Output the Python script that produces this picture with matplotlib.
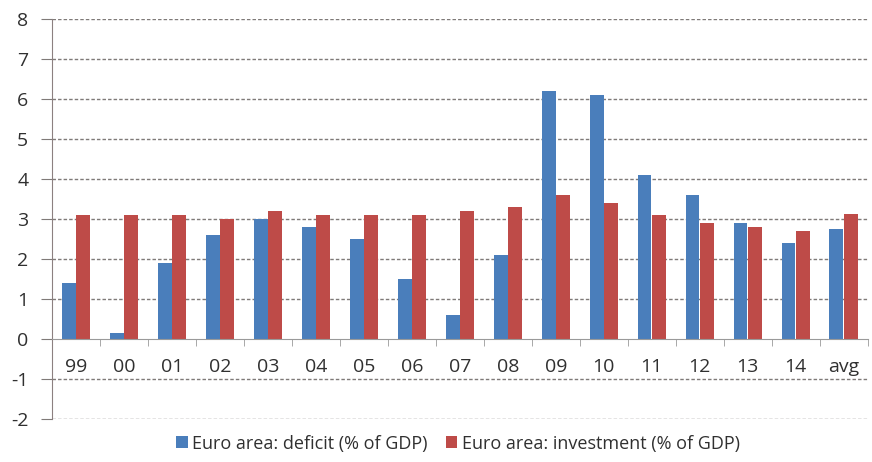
import matplotlib.pyplot as plt
import numpy as np

plt.rcParams['font.family'] = ['Open Sans', 'DejaVu Sans']
plt.rcParams['axes.unicode_minus'] = False

years = ['99', '00', '01', '02', '03', '04', '05', '06', '07', '08',
         '09', '10', '11', '12', '13', '14', 'avg']
deficit = [1.4, 0.15, 1.9, 2.6, 3.0, 2.8, 2.5, 1.5, 0.6, 2.1,
           6.2, 6.1, 4.1, 3.6, 2.9, 2.4, 2.75]
investment = [3.1, 3.1, 3.1, 3.0, 3.2, 3.1, 3.1, 3.1, 3.2, 3.3,
              3.6, 3.4, 3.1, 2.9, 2.8, 2.7, 3.12]

blue = '#4A7EBB'
red = '#BE4B48'
grid_col = '#7F7A78'

fig = plt.figure(figsize=(8.72, 4.62), dpi=100)
ax = fig.add_axes([0.0596, 0.093, 0.9354, 0.866])

x = np.arange(len(years))
w = 0.29
ax.bar(x - 0.15, deficit, w, color=blue, label='Euro area: deficit (% of GDP)', zorder=3)
ax.bar(x + 0.15, investment, w, color=red, label='Euro area: investment (% of GDP)', zorder=3)

ax.set_xlim(-0.5, len(years) - 0.5)
ax.set_ylim(-2, 8)
ax.set_yticks(range(-2, 9))
for v in range(-2, 9):
    if v != 0:
        ax.axhline(v, color=grid_col, lw=1.0, ls=(0, (2.5, 1.5)), zorder=1)

# x axis sits at zero
ax.spines['top'].set_visible(False)
ax.spines['right'].set_visible(False)
ax.spines['bottom'].set_position(('data', 0))
ax.spines['bottom'].set_color('#9A9A9A')
ax.spines['bottom'].set_zorder(4)
ax.spines['left'].set_color('#8C8080')

ax.set_xticks(x)
ax.set_xticklabels(years)
ax.set_xticks(np.arange(-0.5, len(years)), minor=True)
ax.tick_params(axis='x', which='major', length=0, pad=14, labelsize=14, colors='#303030')
ax.tick_params(axis='x', which='minor', length=5, color='#9A9A9A', direction='out')
ax.tick_params(axis='y', length=8, color=grid_col, pad=9, labelsize=14, labelcolor='#303030')

fig.legend(loc='lower center', bbox_to_anchor=(0.525, -0.015), ncol=2, frameon=False,
           fontsize=13, handlelength=0.65, handleheight=0.65, handletextpad=0.25,
           columnspacing=1.0, labelcolor='#303030')

plt.savefig('out.png', dpi=100)
